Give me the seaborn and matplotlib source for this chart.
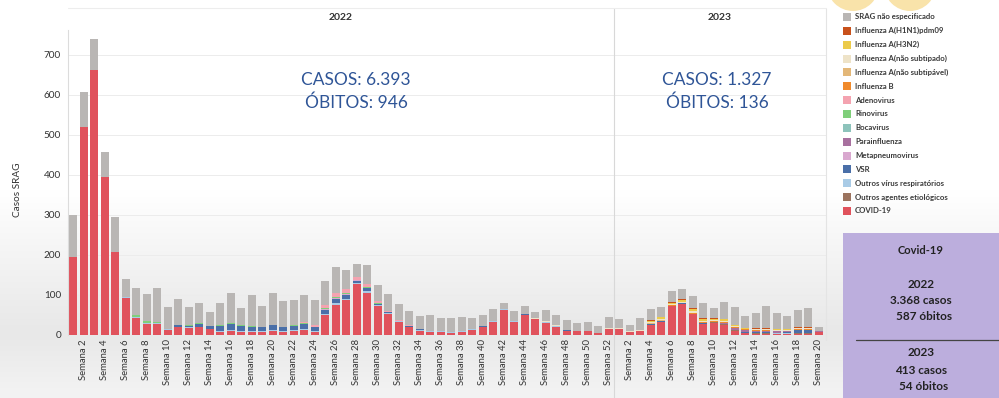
import matplotlib
matplotlib.use("Agg")
import matplotlib.pyplot as plt
from matplotlib.patches import Rectangle, Ellipse
from matplotlib.lines import Line2D
import numpy as np
import pandas as pd
import seaborn as sns

# ---- data: SRAG cases by epidemiological week (2022 W1-52, 2023 W1-20) ----
years = [2022] * 52 + [2023] * 20
weeks = list(range(1, 53)) + list(range(1, 21))

covid19 = [195, 520, 662, 395, 208, 92, 43, 27, 27, 12, 19, 17, 19, 14, 8, 10, 8, 8, 8, 10,
           8, 10, 12, 8, 50, 75, 87, 127, 106, 72, 52, 33, 19, 11, 8, 8, 6, 8, 13, 20,
           33, 63, 33, 50, 39, 31, 21, 11, 9, 9, 6, 14,
           14, 7, 10, 26, 33, 72, 78, 52, 27, 31, 25, 9, 4, 3, 3, 2, 2, 3, 3, 7]
outros_agentes = [0, 0, 0, 0, 0, 0, 0, 0, 0, 0, 0, 0, 0, 0, 0, 0, 0, 0, 0, 0,
                  0, 0, 0, 0, 0, 0, 0, 0, 0, 0, 0, 0, 0, 0, 0, 0, 0, 0, 0, 0,
                  0, 0, 0, 0, 0, 0, 0, 0, 0, 0, 0, 0,
                  0, 0, 0, 0, 0, 0, 0, 0, 1, 1, 2, 3, 1, 1, 1, 1, 1, 1, 1, 0]
outros_virus = [0, 0, 0, 0, 0, 2, 3, 3, 3, 2, 2, 2, 2, 2, 3, 3, 3, 3, 2, 3,
                3, 3, 3, 3, 3, 4, 4, 3, 3, 2, 2, 1, 1, 1, 1, 1, 1, 1, 1, 1,
                1, 1, 1, 1, 1, 1, 1, 0, 0, 0, 0, 1,
                1, 0, 0, 0, 0, 0, 0, 0, 0, 0, 0, 0, 1, 1, 1, 1, 1, 2, 2, 0]
vsr = [0, 0, 0, 0, 0, 0, 0, 0, 0, 0, 3, 4, 6, 6, 12, 14, 12, 10, 10, 12,
       8, 10, 12, 8, 10, 12, 10, 6, 8, 4, 3, 2, 3, 3, 2, 1, 1, 1, 1, 1,
       1, 1, 1, 1, 1, 1, 1, 1, 0, 0, 0, 1,
       1, 1, 1, 1, 1, 1, 1, 1, 1, 1, 1, 1, 1, 2, 2, 2, 3, 6, 6, 1]
metapneumovirus = [0, 0, 0, 0, 0, 0, 0, 0, 0, 0, 0, 0, 0, 0, 0, 0, 0, 0, 0, 0,
                   0, 0, 1, 1, 1, 1, 1, 1, 1, 0, 0, 0, 0, 0, 0, 0, 0, 0, 0, 0,
                   0, 0, 0, 0, 0, 0, 0, 0, 0, 0, 0, 0,
                   0, 0, 0, 0, 0, 0, 0, 0, 0, 0, 0, 0, 0, 0, 0, 0, 0, 0, 0, 0]
parainfluenza = [0, 0, 0, 0, 0, 0, 0, 0, 0, 0, 0, 0, 0, 0, 0, 0, 0, 0, 0, 0,
                 0, 0, 0, 0, 0, 0, 0, 0, 0, 0, 0, 0, 0, 0, 0, 0, 0, 0, 0, 0,
                 0, 0, 0, 0, 0, 0, 0, 0, 0, 0, 0, 0,
                 0, 0, 0, 0, 0, 0, 0, 0, 0, 0, 1, 4, 5, 4, 4, 3, 2, 1, 1, 1]
bocavirus = [0, 0, 0, 0, 0, 0, 0, 0, 0, 0, 0, 0, 0, 0, 0, 0, 0, 0, 0, 0,
             0, 0, 0, 0, 1, 1, 1, 0, 0, 0, 0, 0, 0, 0, 0, 0, 0, 0, 0, 0,
             0, 0, 0, 0, 0, 0, 0, 0, 0, 0, 0, 0,
             0, 0, 0, 0, 0, 0, 0, 0, 0, 0, 0, 0, 0, 0, 0, 0, 0, 0, 0, 0]
rinovirus = [0, 0, 0, 0, 0, 2, 4, 4, 3, 2, 2, 2, 2, 1, 1, 2, 1, 1, 1, 1,
             1, 1, 1, 1, 2, 2, 2, 1, 1, 1, 0, 0, 0, 0, 0, 0, 0, 0, 0, 0,
             0, 0, 0, 0, 0, 0, 0, 0, 0, 0, 0, 0,
             0, 0, 0, 0, 0, 0, 0, 0, 0, 0, 0, 0, 0, 0, 0, 0, 0, 0, 0, 0]
adenovirus = [0, 0, 0, 0, 0, 0, 0, 0, 0, 0, 0, 0, 0, 0, 0, 0, 0, 0, 0, 0,
              0, 2, 3, 3, 8, 10, 10, 8, 8, 5, 3, 2, 1, 1, 0, 0, 0, 0, 0, 0,
              0, 0, 0, 0, 0, 0, 0, 0, 0, 0, 0, 0,
              0, 0, 0, 0, 0, 0, 0, 0, 0, 0, 0, 0, 0, 0, 0, 0, 0, 0, 0, 0]
influenza_b = [0, 0, 0, 0, 0, 0, 0, 0, 0, 0, 0, 0, 0, 0, 0, 0, 0, 0, 0, 0,
               0, 0, 0, 0, 0, 0, 0, 0, 0, 0, 0, 0, 0, 0, 0, 0, 0, 0, 0, 0,
               0, 0, 0, 0, 0, 0, 0, 0, 0, 0, 0, 0,
               0, 0, 0, 1, 2, 1, 1, 2, 3, 3, 4, 3, 2, 2, 2, 2, 2, 2, 2, 0]
flu_a_nao_subtipavel = [0, 0, 0, 0, 0, 0, 0, 0, 0, 0, 0, 0, 0, 0, 0, 0, 0, 0, 0, 0,
                        0, 0, 0, 0, 0, 0, 0, 0, 0, 0, 0, 0, 0, 0, 0, 0, 0, 0, 0, 0,
                        0, 0, 0, 0, 0, 0, 0, 0, 0, 0, 0, 0,
                        0, 0, 0, 1, 1, 1, 1, 1, 1, 0, 0, 0, 0, 0, 0, 0, 0, 0, 0, 0]
flu_a_nao_subtipado = [0, 0, 0, 0, 0, 0, 0, 0, 0, 0, 0, 0, 0, 0, 0, 0, 0, 0, 0, 0,
                       0, 0, 0, 0, 0, 0, 0, 0, 0, 0, 0, 0, 0, 0, 0, 0, 0, 0, 0, 0,
                       1, 1, 1, 1, 1, 1, 1, 1, 0, 0, 0, 1,
                       1, 1, 1, 3, 3, 2, 2, 3, 3, 2, 3, 2, 2, 2, 2, 2, 2, 2, 2, 1]
flu_a_h3n2 = [0, 0, 0, 0, 0, 0, 0, 0, 0, 0, 0, 0, 0, 0, 0, 0, 0, 0, 0, 0,
              0, 0, 0, 0, 0, 0, 0, 0, 0, 0, 0, 0, 0, 0, 0, 0, 0, 0, 0, 0,
              0, 0, 0, 0, 0, 0, 0, 0, 0, 0, 0, 0,
              0, 0, 1, 4, 5, 4, 5, 6, 5, 3, 3, 2, 1, 1, 1, 1, 1, 1, 1, 0]
flu_a_h1n1 = [0, 0, 0, 0, 0, 0, 0, 0, 0, 0, 0, 0, 0, 0, 0, 0, 0, 0, 0, 0,
              0, 0, 0, 0, 0, 0, 0, 0, 0, 0, 0, 0, 0, 0, 0, 0, 0, 0, 0, 0,
              0, 0, 0, 0, 0, 0, 0, 0, 0, 0, 0, 0,
              0, 0, 0, 1, 1, 1, 1, 2, 2, 1, 2, 2, 1, 1, 1, 1, 1, 1, 1, 0]
srag_nao_especificado = [105, 87, 78, 62, 88, 43, 68, 68, 84, 55, 64, 46, 50, 35, 55, 75, 43, 78, 51, 78,
                         65, 61, 69, 64, 59, 65, 47, 32, 47, 41, 42, 39, 37, 31, 39, 32, 34, 34, 27, 28,
                         29, 14, 23, 19, 15, 29, 27, 25, 22, 23, 16, 27,
                         22, 16, 29, 28, 24, 27, 27, 31, 37, 26, 41, 45, 29, 37, 55, 39, 32, 43, 48, 11]

series_labels = ["SRAG não especificado", "Influenza A(H1N1)pdm09", "Influenza A(H3N2)",
                 "Influenza A(não subtipado)", "Influenza A(não subtipável)", "Influenza B",
                 "Adenovirus", "Rinovirus", "Bocavirus", "Parainfluenza", "Metapneumovirus",
                 "VSR", "Outros vírus respiratórios", "Outros agentes etiológicos", "COVID-19"]
series_values = [srag_nao_especificado, flu_a_h1n1, flu_a_h3n2, flu_a_nao_subtipado,
                 flu_a_nao_subtipavel, influenza_b, adenovirus, rinovirus, bocavirus,
                 parainfluenza, metapneumovirus, vsr, outros_virus, outros_agentes, covid19]
series_colors = ["#b9b6b4", "#c8511b", "#eccb4a", "#eee3c8", "#e3b778", "#f08a2c",
                 "#f4a3b0", "#7fcf7a", "#8dc3bb", "#a8709f", "#d9a8cf", "#4a6fa8",
                 "#a9cbe6", "#9b735e", "#e0525c"]

year_totals = {2022: ("CASOS: 6.393", "ÓBITOS: 946"), 2023: ("CASOS: 1.327", "ÓBITOS: 136")}
covid_box_lines = ["2022", "3.368 casos", "587 óbitos", "2023", "413 casos", "54 óbitos"]

# ---- long table for seaborn ----
rows = []
for lab, vals in zip(series_labels, series_values):
    for i, v in enumerate(vals):
        rows.append({"pos": i, "serie": lab, "casos": v})
df = pd.DataFrame(rows)

sns.set_theme(style="white")
plt.rcParams["font.family"] = ["Lato", "DejaVu Sans"]

W, H = 999, 398
fig = plt.figure(figsize=(W / 100, H / 100), dpi=100)
fig.patch.set_facecolor("white")


def fx(px):
    return px / W


def fy(py):
    return 1 - py / H


# soft background shading toward the bottom
bg = fig.add_axes([0, 0, 1, 1], zorder=-10)
yy = np.arange(H)
shade = np.clip((yy - 190) / 140.0, 0, 1)
shade = np.where(yy > 335, np.clip(1 - (yy - 335) / 120.0, 0.55, 1), shade)
level = 1 - 0.09 * shade
img = np.repeat(level[:, None], 4, axis=1)
bg.imshow(np.dstack([img, img, img]), aspect="auto", extent=[0, 1, 0, 1], interpolation="bilinear")
bg.set_xlim(0, 1)
bg.set_ylim(0, 1)
bg.axis("off")

# main plot area
x_left, x_right, y_base, y_top = 68, 826, 335, 30
ax = fig.add_axes([fx(x_left), fy(y_base), fx(x_right) - fx(x_left), fy(y_top) - fy(y_base)])
ax.patch.set_alpha(0)

sns.histplot(data=df, x="pos", weights="casos", hue="serie", hue_order=series_labels,
             palette=dict(zip(series_labels, series_colors)), multiple="stack",
             discrete=True, shrink=0.78, alpha=1, linewidth=0, edgecolor="none",
             legend=False, ax=ax)

step = 10.5
ax.set_xlim(-0.5, -0.5 + (x_right - x_left) / step)
ax.set_ylim(0, (y_base - y_top) / 0.4)

tick_pos = [i for i, w in enumerate(weeks) if w % 2 == 0]
ax.set_xticks(tick_pos)
ax.set_xticklabels([f"Semana {weeks[i]}" for i in tick_pos], rotation=90, fontsize=6.8,
                   color="#333333")
ax.set_yticks(range(0, 800, 100))
ax.set_yticklabels([str(v) for v in range(0, 800, 100)], fontsize=7.2, color="#333333")
ax.tick_params(axis="x", length=0, pad=3)
ax.tick_params(axis="y", length=0, pad=5)
ax.set_xlabel("")
ax.set_ylabel("")
ax.yaxis.grid(True, color="#ececec", linewidth=0.7)
ax.xaxis.grid(False)
ax.set_axisbelow(True)
for s in ["top", "right", "bottom"]:
    ax.spines[s].set_visible(False)
ax.spines["left"].set_color("#dcdcdc")
ax.spines["left"].set_linewidth(0.8)

fig.text(fx(17), fy(190), "Casos SRAG", rotation=90, ha="center", va="center",
         fontsize=7.2, color="#333333")

# year panes: separators, headers and totals
split_px = x_left + step * 52
fig.add_artist(Line2D([fx(split_px)] * 2, [fy(8), fy(398)], color="#d8d8d8", lw=0.8))
fig.add_artist(Line2D([fx(x_right)] * 2, [fy(8), fy(340)], color="#e4e4e4", lw=0.8))
fig.add_artist(Line2D([fx(x_left), fx(x_right)], [fy(8)] * 2, color="#ededed", lw=0.8))
for yr, (xa, xb) in {2022: (x_left, split_px), 2023: (split_px, x_right)}.items():
    xc = (xa + xb) / 2
    fig.text(fx(xc), fy(18), str(yr), ha="center", va="center", fontsize=7.5,
             fontweight="bold", color="#333333")
    casos, obitos = year_totals[yr]
    fig.text(fx(xc + 15 if yr == 2022 else xc - 3), fy(80), casos, ha="center", va="center",
             fontsize=12.5, color="#2f5597")
    fig.text(fx(xc + 15 if yr == 2022 else xc - 3), fy(103), obitos, ha="center", va="center",
             fontsize=12.5, color="#2f5597")

# legend
for k, (lab, col) in enumerate(zip(series_labels, series_colors)):
    yc = 17 + k * 13.85
    fig.add_artist(Rectangle((fx(843), fy(yc + 4)), 8 / W, 8 / H, facecolor=col,
                             edgecolor="none", transform=fig.transFigure))
    fig.text(fx(855), fy(yc), lab, ha="left", va="center", fontsize=5.6,
             fontweight="bold", color="#3a3a3a")

# decorative pale circles at the top right
for cx in (853, 910):
    fig.add_artist(Ellipse((fx(cx), fy(-15)), 52 / W, 52 / H, facecolor="#f9e3aa",
                           edgecolor="none", transform=fig.transFigure))

# COVID-19 summary box
fig.add_artist(Rectangle((fx(843), 0), (W - 843) / W, (H - 233) / H, facecolor="#bcaedd",
                         edgecolor="none", transform=fig.transFigure))
fig.text(fx(921), fy(250), "Covid-19", ha="center", va="center", fontsize=8,
         fontweight="bold", color="#222222")
box_y = [285, 301, 316, 352, 370, 387]
for t, yv in zip(covid_box_lines, box_y):
    off = 3 if "óbitos" in t else 0
    fig.text(fx(921 + off), fy(yv), t, ha="center", va="center", fontsize=8.5,
             fontweight="bold", color="#222222")
fig.add_artist(Line2D([fx(856), fx(999)], [fy(340)] * 2, color="#444444", lw=0.9))

fig.savefig("out.png", dpi=100)
